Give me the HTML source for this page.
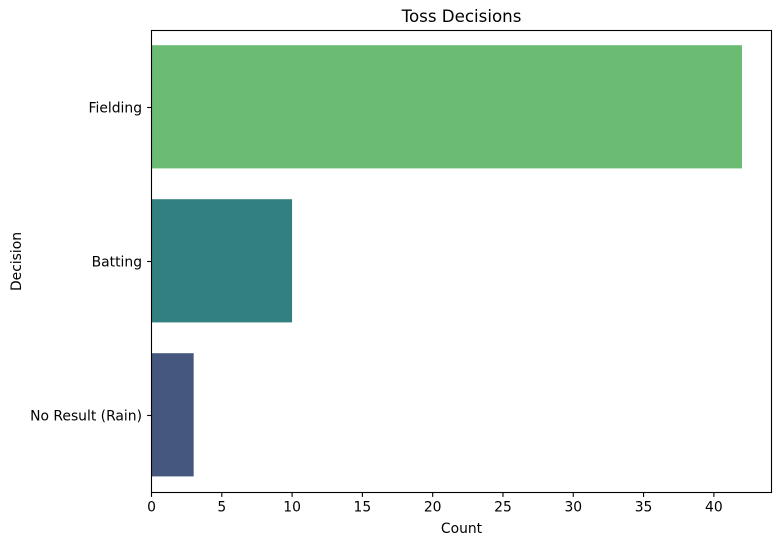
<!DOCTYPE html>
<html>
<head>
<meta charset="utf-8">
<title>Toss Decisions</title>
<style>
html,body{margin:0;padding:0;background:#fff;width:781px;height:545px;overflow:hidden}
svg{display:block}
text{font-family:"DejaVu Sans","Liberation Sans",sans-serif;fill:#000}
</style>
</head>
<body>
<svg id="chart" width="781" height="545" viewBox="0 0 781 545" xmlns="http://www.w3.org/2000/svg"></svg>
<script>
const categories = ["Fielding", "Batting", "No Result (Rain)"];
const counts = [42, 10, 3];
const barColors = ["#6bbc72", "#32807f", "#46577f"];
const xTickValues = [0, 5, 10, 15, 20, 25, 30, 35, 40];
const xAxisMax = 44.1;

const svg = document.getElementById('chart');
const NS = 'http://www.w3.org/2000/svg';
const plot = {left: 151.5, right: 771.5, top: 30.5, bottom: 492.5};
const xScale = v => plot.left + (v / xAxisMax) * (plot.right - plot.left);
const band = () => (plot.bottom - plot.top) / categories.length;
const yCenter = i => plot.top + band() * (i + 0.5);
function make(tag, attrs, text) {
  const el = document.createElementNS(NS, tag);
  for (const k in attrs) el.setAttribute(k, attrs[k]);
  if (text !== undefined) el.textContent = text;
  svg.appendChild(el);
  return el;
}

const bg = make('rect', {x: plot.left, y: plot.top, width: plot.right - plot.left, height: plot.bottom - plot.top, fill: '#fff'});



counts.forEach((value, i) => {
  const h = band() * 0.8;
  const bar = make('rect', {x: xScale(0), y: yCenter(i) - h / 2 - 0.7, width: xScale(value) - xScale(0), height: h, fill: barColors[i]});
  
  
});

xTickValues.forEach(value => {
  const x = xScale(value);
  const tick = make('line', {x1: x, x2: x, y1: plot.bottom, y2: plot.bottom + 4.4, stroke: '#000', 'stroke-width': 1.1});
  
  
  const label = make('text', {x: x, y: plot.bottom + 19, 'font-size': 13.89, 'text-anchor': 'middle'}, String(value));
  
  
});

categories.forEach((name, i) => {
  const y = yCenter(i);
  const tick = make('line', {x1: plot.left - 4.4, x2: plot.left, y1: y, y2: y, stroke: '#000', 'stroke-width': 1.1});
  
  
  const label = make('text', {x: plot.left - 9.5, y: y + 5, 'font-size': 13.89, 'text-anchor': 'end'}, name);
  
  
});

const frame = make('rect', {x: plot.left, y: plot.top, width: plot.right - plot.left, height: plot.bottom - plot.top, fill: 'none', stroke: '#000', 'stroke-width': 1.1});



const title = make('text', {x: (plot.left + plot.right) / 2, y: 22, 'font-size': 16.67, 'text-anchor': 'middle'}, 'Toss Decisions');



const xTitle = make('text', {x: (plot.left + plot.right) / 2, y: 533, 'font-size': 13.89, 'text-anchor': 'middle'}, 'Count');



const yTitle = make('text', {x: 21, y: (plot.top + plot.bottom) / 2, 'font-size': 13.89, 'text-anchor': 'middle', transform: 'rotate(-90 21 ' + (plot.top + plot.bottom) / 2 + ')'}, 'Decision');


</script>
</body>
</html>
